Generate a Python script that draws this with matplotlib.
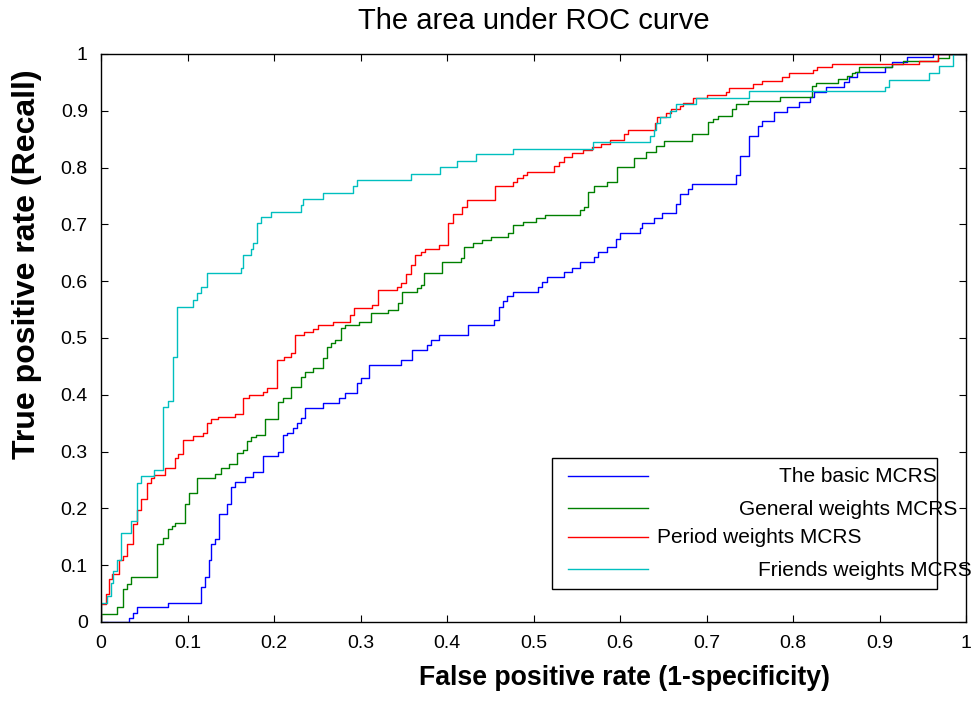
# ROC comparison of the four MCRS variants, MATLAB-style figure:
# boxed axes, inward ticks on all sides, thin step curves and a
# hand-placed legend box in the lower right.

import matplotlib.pyplot as plt
from matplotlib.lines import Line2D
from matplotlib.patches import Rectangle

OUT_PATH = "out.png"

plt.rcParams["font.family"] = ["Liberation Sans", "DejaVu Sans"]

# (fpr, tpr) at the top of every rise; drawn with step(where="post")
BASIC_FPR = [0.0, 0.0324, 0.0374, 0.0420, 0.0771, 0.1156, 0.1202, 0.1252, 0.1270, 0.1318,
             0.1368, 0.1460, 0.1503, 0.1549, 0.1665, 0.1753, 0.1869, 0.2050, 0.2100, 0.2146,
             0.2216, 0.2262, 0.2308, 0.2358, 0.2563, 0.2755, 0.2821, 0.2956, 0.3006, 0.3098,
             0.3464, 0.3599, 0.3765, 0.3810, 0.3903, 0.4247, 0.4547, 0.4597, 0.4643, 0.4690,
             0.4760, 0.5055, 0.5102, 0.5152, 0.5356, 0.5448, 0.5537, 0.5702, 0.5749, 0.5845,
             0.5954, 0.6000, 0.6231, 0.6254, 0.6393, 0.6489, 0.6647, 0.6694, 0.6782, 0.6832,
             0.7341, 0.7387, 0.7495, 0.7592, 0.7638, 0.7780, 0.7927, 0.8073, 0.8193, 0.8243,
             0.8378, 0.8590, 0.8644, 0.8736, 0.9068, 0.9141, 0.9320, 0.9620, 1.0]
BASIC_TPR = [0.0, 0.0077, 0.0164, 0.0258, 0.0340, 0.0610, 0.0786, 0.1100, 0.1367, 0.1455,
             0.1895, 0.2070, 0.2382, 0.2470, 0.2558, 0.2646, 0.2923, 0.3000, 0.3292, 0.3320,
             0.3409, 0.3498, 0.3585, 0.3762, 0.3850, 0.3938, 0.4026, 0.4202, 0.4290, 0.4525,
             0.4613, 0.4789, 0.4877, 0.4965, 0.5059, 0.5229, 0.5317, 0.5550, 0.5645, 0.5733,
             0.5816, 0.5904, 0.5992, 0.6080, 0.6168, 0.6239, 0.6343, 0.6420, 0.6508, 0.6596,
             0.6737, 0.6843, 0.6931, 0.7020, 0.7108, 0.7195, 0.7359, 0.7535, 0.7620, 0.7711,
             0.7864, 0.8210, 0.8562, 0.8738, 0.8826, 0.8973, 0.9061, 0.9150, 0.9238, 0.9326,
             0.9414, 0.9501, 0.9590, 0.9678, 0.9765, 0.9853, 0.9941, 1.0, 1.0]

GENERAL_FPR = [0.0, 0.0, 0.0189, 0.0258, 0.0305, 0.0347, 0.0651, 0.0721, 0.0771, 0.0817,
               0.0855, 0.0971, 0.1021, 0.1106, 0.1318, 0.1384, 0.1480, 0.1576, 0.1646, 0.1692,
               0.1734, 0.1788, 0.1896, 0.2050, 0.2108, 0.2197, 0.2308, 0.2358, 0.2455, 0.2563,
               0.2609, 0.2659, 0.2705, 0.2771, 0.2821, 0.2983, 0.3121, 0.3322, 0.3437, 0.3483,
               0.3649, 0.3695, 0.3737, 0.3946, 0.4158, 0.4200, 0.4297, 0.4408, 0.4509, 0.4709,
               0.4760, 0.4875, 0.5029, 0.5133, 0.5537, 0.5584, 0.5633, 0.5698, 0.5845, 0.5960,
               0.6162, 0.6301, 0.6416, 0.6509, 0.6829, 0.7021, 0.7079, 0.7136, 0.7291, 0.7341,
               0.7483, 0.7850, 0.8216, 0.8266, 0.8516, 0.8620, 0.8678, 0.8717, 0.8767, 0.9140,
               0.9275, 0.9680, 0.9807, 1.0]
GENERAL_TPR = [0.0, 0.0140, 0.0258, 0.0575, 0.0663, 0.0786, 0.1367, 0.1485, 0.1631, 0.1690,
               0.1749, 0.2072, 0.2277, 0.2530, 0.2600, 0.2705, 0.2775, 0.2970, 0.3028, 0.3186,
               0.3250, 0.3298, 0.3568, 0.3879, 0.3938, 0.4143, 0.4319, 0.4407, 0.4466, 0.4642,
               0.4847, 0.4906, 0.4965, 0.5170, 0.5229, 0.5288, 0.5434, 0.5493, 0.5610, 0.5816,
               0.5875, 0.5933, 0.6139, 0.6344, 0.6403, 0.6608, 0.6667, 0.6725, 0.6784, 0.6843,
               0.6990, 0.7048, 0.7107, 0.7166, 0.7254, 0.7313, 0.7576, 0.7682, 0.7741, 0.8005,
               0.8163, 0.8281, 0.8386, 0.8474, 0.8592, 0.8809, 0.8856, 0.8915, 0.9026, 0.9114,
               0.9179, 0.9238, 0.9437, 0.9495, 0.9554, 0.9613, 0.9660, 0.9689, 0.9765, 0.9824,
               0.9882, 0.9935, 1.0, 1.0]

PERIOD_FPR = [0.0, 0.0, 0.0054, 0.0093, 0.0123, 0.0210, 0.0254, 0.0301, 0.0374, 0.0416,
              0.0462, 0.0536, 0.0578, 0.0617, 0.0740, 0.0855, 0.0894, 0.0944, 0.1067, 0.1183,
              0.1225, 0.1272, 0.1349, 0.1549, 0.1642, 0.1711, 0.1869, 0.1915, 0.2031, 0.2120,
              0.2197, 0.2243, 0.2351, 0.2447, 0.2513, 0.2678, 0.2883, 0.2929, 0.3129, 0.3206,
              0.3418, 0.3464, 0.3526, 0.3580, 0.3630, 0.3695, 0.3746, 0.3904, 0.4015, 0.4065,
              0.4177, 0.4227, 0.4551, 0.4760, 0.4805, 0.4875, 0.4920, 0.5241, 0.5291, 0.5353,
              0.5445, 0.5568, 0.5680, 0.5776, 0.5884, 0.6050, 0.6096, 0.6405, 0.6432, 0.6532,
              0.6586, 0.6694, 0.6732, 0.6848, 0.7010, 0.7225, 0.7264, 0.7542, 0.7638, 0.7869,
              0.7958, 0.8235, 0.8274, 0.8447, 0.9460, 0.9680, 1.0]
PERIOD_TPR = [0.0, 0.0320, 0.0490, 0.0750, 0.0850, 0.1100, 0.1160, 0.1370, 0.1720, 0.1970,
              0.2160, 0.2450, 0.2530, 0.2590, 0.2705, 0.2880, 0.2950, 0.3204, 0.3275, 0.3320,
              0.3498, 0.3574, 0.3615, 0.3670, 0.3938, 0.3996, 0.4055, 0.4114, 0.4613, 0.4670,
              0.4730, 0.5053, 0.5110, 0.5158, 0.5229, 0.5287, 0.5405, 0.5533, 0.5580, 0.5845,
              0.5904, 0.5962, 0.6120, 0.6285, 0.6460, 0.6507, 0.6566, 0.6637, 0.7020, 0.7183,
              0.7312, 0.7424, 0.7682, 0.7741, 0.7811, 0.7870, 0.7917, 0.8034, 0.8093, 0.8193,
              0.8251, 0.8310, 0.8357, 0.8415, 0.8486, 0.8590, 0.8662, 0.8792, 0.8897, 0.8970,
              0.9026, 0.9080, 0.9132, 0.9220, 0.9280, 0.9336, 0.9407, 0.9466, 0.9531, 0.9590,
              0.9660, 0.9720, 0.9765, 0.9824, 0.9882, 1.0, 1.0]

FRIENDS_FPR = [0.0, 0.0, 0.0066, 0.0110, 0.0143, 0.0189, 0.0235, 0.0347, 0.0416, 0.0462,
               0.0609, 0.0721, 0.0771, 0.0836, 0.0879, 0.1060, 0.1107, 0.1156, 0.1225, 0.1614,
               0.1638, 0.1730, 0.1753, 0.1803, 0.1850, 0.1961, 0.2308, 0.2331, 0.2563, 0.2910,
               0.2960, 0.3580, 0.3920, 0.4110, 0.4340, 0.4760, 0.5690, 0.6347, 0.6393, 0.6416,
               0.6460, 0.6578, 0.6647, 0.6879, 0.7495, 0.9068, 0.9114, 0.9576, 0.9692, 0.9846,
               1.0]
FRIENDS_TPR = [0.0, 0.0340, 0.0460, 0.0680, 0.0890, 0.1100, 0.1570, 0.1780, 0.2440, 0.2570,
               0.2680, 0.3790, 0.3890, 0.4670, 0.5550, 0.5670, 0.5790, 0.5900, 0.6140, 0.6230,
               0.6455, 0.6570, 0.6670, 0.7020, 0.7125, 0.7210, 0.7340, 0.7450, 0.7560, 0.7680,
               0.7780, 0.7890, 0.8005, 0.8120, 0.8240, 0.8330, 0.8445, 0.8560, 0.8670, 0.8780,
               0.8890, 0.9000, 0.9120, 0.9220, 0.9355, 0.9425, 0.9550, 0.9670, 0.9790, 1.0,
               1.0]

SERIES = [
    ("The basic MCRS", BASIC_FPR, BASIC_TPR, "#0000ff"),
    ("General weights MCRS", GENERAL_FPR, GENERAL_TPR, "#008000"),
    ("Period weights MCRS", PERIOD_FPR, PERIOD_TPR, "#ff0000"),
    ("Friends weights MCRS", FRIENDS_FPR, FRIENDS_TPR, "#00bfbf"),
]

TICKS = [0.0, 0.1, 0.2, 0.3, 0.4, 0.5, 0.6, 0.7, 0.8, 0.9, 1.0]
TICK_LABELS = ["0", "0.1", "0.2", "0.3", "0.4", "0.5", "0.6", "0.7", "0.8", "0.9", "1"]

# legend quirks copied from the original: text anchors differ per row
LEGEND_TEXT_POS = [(0.9665, "right"), (0.9896, "right"), (0.6428, "left"), (1.0070, "right")]
LEGEND_ROW_Y = [0.2553, 0.1989, 0.1479, 0.0915]


def main() -> None:
    fig = plt.figure(figsize=(9.78, 7.02), dpi=100)
    ax = fig.add_axes([101 / 978, 80 / 702, 865 / 978, 568 / 702])

    for name, fpr, tpr, color in SERIES:
        ax.step(fpr, tpr, where="post", color=color, linewidth=1.0, label=name)

    ax.set_xlim(0, 1)
    ax.set_ylim(0, 1)
    ax.set_xticks(TICKS)
    ax.set_yticks(TICKS)
    ax.set_xticklabels(TICK_LABELS)
    ax.set_yticklabels(TICK_LABELS)
    ax.tick_params(direction="in", length=5, width=0.8, top=True, right=True,
                   labelsize=14, pad=9.5)
    for spine in ax.spines.values():
        spine.set_linewidth(1.0)

    ax.set_title("The area under ROC curve", fontsize=21, y=1.044, pad=0)
    ax.set_xlabel("False positive rate (1-specificity)", fontsize=19.2, fontweight="bold")
    ax.xaxis.set_label_coords(0.605, -0.0986)
    ax.xaxis.label.set_verticalalignment("center")
    ax.set_ylabel("True positive rate (Recall)", fontsize=23, fontweight="bold")
    ax.yaxis.set_label_coords(-0.0855, 0.630)
    ax.yaxis.label.set_verticalalignment("center")

    # hand-built legend box
    ax.add_patch(Rectangle((0.5214, 0.0581), 0.9665 - 0.5214, 0.2887 - 0.0581,
                           transform=ax.transAxes, facecolor="white", edgecolor="black",
                           linewidth=1.0, zorder=3))
    for (name, _, _, color), (tx, ha), ty in zip(SERIES, LEGEND_TEXT_POS, LEGEND_ROW_Y):
        ax.add_line(Line2D([0.5399, 0.6324], [ty + 0.002, ty + 0.002], transform=ax.transAxes,
                           color=color, linewidth=1.0, zorder=4))
        ax.text(tx, ty, name, transform=ax.transAxes, ha=ha, va="center",
                fontsize=15, zorder=4, clip_on=False)

    fig.savefig(OUT_PATH, dpi=100)


if __name__ == "__main__":
    main()
